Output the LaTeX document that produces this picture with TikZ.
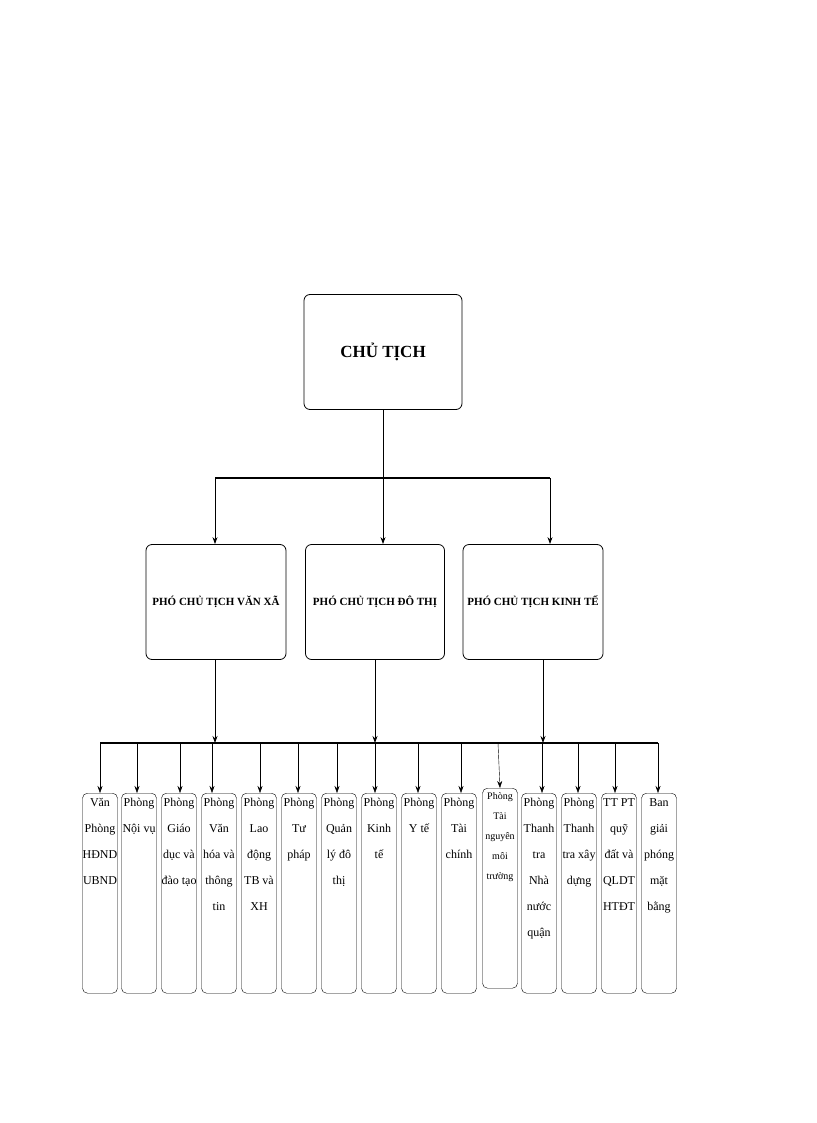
\documentclass[tikz,border=0pt]{standalone}
\usepackage{fontspec}
\setmainfont{Liberation Serif}
\usetikzlibrary{arrows.meta}
\begin{document}
\begin{tikzpicture}[x=1pt,y=-1pt,
 bx/.style={draw,rounded corners=6pt,thick},
 small/.style={draw,rounded corners=5pt,minimum width=35pt,minimum height=200pt,anchor=north,inner sep=1pt},
 arr/.style={-{Stealth[length=7pt,width=5pt]}},
 bus/.style={line width=2pt}]
\useasboundingbox (0,0) rectangle (816,1123);
\node[bx,minimum width=158pt,minimum height=115pt] (ct) at (383,352) {\fontsize{17}{20}\selectfont\bfseries CHỦ TỊCH};
\node[bx,minimum width=140pt,minimum height=115pt] (p1) at (216,602) {\fontsize{11}{13}\selectfont\bfseries PHÓ CHỦ TỊCH VĂN XÃ};
\node[bx,minimum width=139pt,minimum height=115pt] (p2) at (375,602) {\fontsize{11}{13}\selectfont\bfseries PHÓ CHỦ TỊCH ĐÔ THỊ};
\node[bx,minimum width=140pt,minimum height=115pt] (p3) at (533,602) {\fontsize{11}{13}\selectfont\bfseries PHÓ CHỦ TỊCH KINH TẾ};
\coordinate (b0) at (383,478);
\coordinate (bl) at (215,478);
\coordinate (br) at (550,478);
\draw[thick] (ct.south) -- (b0);
\draw[bus] (bl) -- (br);
\draw[thick,arr] (bl) -- (bl |- p1.north);
\draw[thick,arr] (b0) -- (b0 |- p2.north);
\draw[thick,arr] (br) -- (br |- p3.north);
\coordinate (L) at (100,743);
\coordinate (R) at (658,743);
\draw[bus] (L) -- (R);
\draw[thick,arr] (p1.south -| 215,0) -- (215,743);
\draw[thick,arr] (p2.south) -- (375,743);
\draw[thick,arr] (p3.south -| 543,0) -- (543,743);
\foreach \i/\x/\ax/\t in {
 1/100/100/{Văn\\Phòng\\HĐND\\UBND},
 2/139/137/{Phòng\\Nội vụ},
 3/179/180/{Phòng\\Giáo\\dục và\\đào tạo},
 4/219/212/{Phòng\\Văn\\hóa và\\thông\\tin},
 5/259/260/{Phòng\\Lao\\động\\TB và\\XH},
 6/299/298/{Phòng\\Tư\\pháp},
 7/339/337/{Phòng\\Quản\\lý đô\\thị},
 8/379/375/{Phòng\\Kinh\\tế},
 9/419/418/{Phòng\\Y tế},
 10/459/461/{Phòng\\Tài\\chính},
 12/539/542/{Phòng\\Thanh\\tra\\Nhà\\nước\\quận},
 13/579/578/{Phòng\\Thanh\\tra xây\\dựng},
 14/619/615/{TT PT\\quỹ\\đất và\\QLDT\\HTĐT},
 15/659/658/{Ban\\giải\\phóng\\mặt\\bằng}}{
 \node[small] (s\i) at (\x,793) {};
 \node[anchor=north,align=center,font=\fontsize{12}{26}\selectfont,inner sep=0pt] at ([yshift=-5pt]s\i.north) {\t};
 \draw[arr] (\ax,743) -- (\ax,793);
}
\node[small,minimum height=200pt] (s11) at (500,788) {};
\node[anchor=north,align=center,font=\fontsize{10}{20}\selectfont,inner sep=0pt] at (500,792) {Phòng\\Tài\\nguyên\\môi\\trường};
\draw[arr] (498,743) -- (s11.north);
\end{tikzpicture}
\end{document}
